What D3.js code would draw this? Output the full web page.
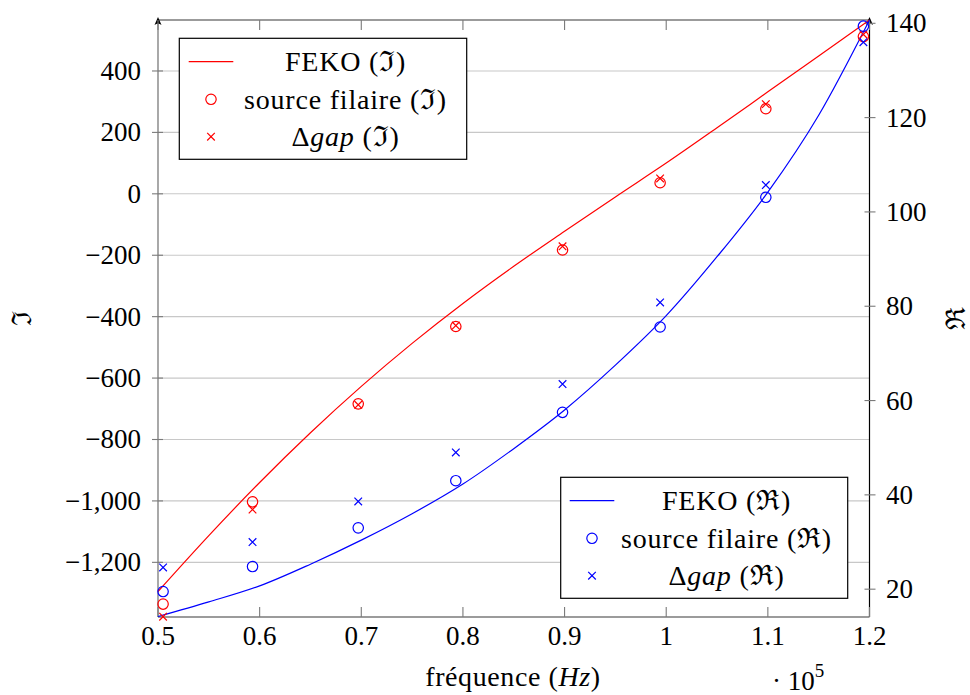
<!DOCTYPE html>
<html>
<head>
<meta charset="utf-8">
<script src="https://cdn.jsdelivr.net/npm/d3@7"></script>
</head>
<body style="margin:0;padding:0;background:#fff">
<svg id="chart" width="970" height="695" font-family="Liberation Serif"></svg>
<script>
// ---- Data (frequency in units of 1e5 Hz) ----
const fekoFreq = [0.50, 0.55, 0.60, 0.65, 0.70, 0.75, 0.80, 0.85, 0.90, 0.95, 1.00, 1.05, 1.10, 1.15, 1.20];
const fekoIm   = [-1295, -1113, -940, -778, -627, -487, -357, -236, -122, -10, 100, 215, 332, 449, 566];
const fekoRe   = [14.2, 17.3, 20.7, 25.3, 30.4, 36.0, 42.3, 49.8, 58.0, 67.5, 78.0, 90.5, 104.2, 120.5, 140.7];

const ptFreq   = [0.505, 0.593, 0.697, 0.793, 0.898, 0.994, 1.098, 1.194];
const imSource = [-1336, -1003, -684, -432, -183, 36, 277, 512];
const imGap    = [-1377, -1028, -687, -429, -171, 50, 292, 519];
const reSource = [19.5, 24.8, 33.0, 43.0, 57.5, 75.6, 103.1, 139.4];
const reGap    = [24.6, 30.0, 38.6, 49.0, 63.5, 80.8, 105.7, 136.0];

const xTicks  = [0.5, 0.6, 0.7, 0.8, 0.9, 1.0, 1.1, 1.2];
const yLTicks = [-1200, -1000, -800, -600, -400, -200, 0, 200, 400];
const yRTicks = [20, 40, 60, 80, 100, 120, 140];

const legendIm = ["FEKO (ℑ)", "source filaire (ℑ)", "Δgap (ℑ)"];
const legendRe = ["FEKO (ℜ)", "source filaire (ℜ)", "Δgap (ℜ)"];

// ---- Layout ----
const L = 158, R = 869.5, T = 20, B = 617;
const FS = 27;
const svg = d3.select("#chart").attr("font-family", "Liberation Serif, Times New Roman, serif");

const x  = d3.scaleLinear().domain([0.5, 1.2]).range([L, R]);
const yL = d3.scaleLinear().domain([-1378, 566]).range([B, T]);
const yR = d3.scaleLinear().domain([14.1, 140.7]).range([B, T]);

const gray = "#7a7a7a";

// grid lines
svg.append("g").selectAll("line").data(yLTicks).join("line")
  .attr("x1", L).attr("x2", R)
  .attr("y1", d => yL(d)).attr("y2", d => yL(d))
  .attr("stroke", "#c8c8c8").attr("stroke-width", 1.1);

// frame: top, bottom, left (gray)
svg.append("line").attr("x1", L).attr("x2", R).attr("y1", T).attr("y2", T).attr("stroke", gray).attr("stroke-width", 1.3);
svg.append("line").attr("x1", L).attr("x2", R).attr("y1", B).attr("y2", B).attr("stroke", gray).attr("stroke-width", 1.3);
svg.append("line").attr("x1", L).attr("x2", L).attr("y1", B).attr("y2", T - 1).attr("stroke", gray).attr("stroke-width", 1.3);
// right axis (black)
svg.append("line").attr("x1", R).attr("x2", R).attr("y1", B).attr("y2", T - 1).attr("stroke", "#000").attr("stroke-width", 1.2);

// arrow heads
function arrow(xp) {
  svg.append("path")
    .attr("d", `M${xp},${T - 3} L${xp - 3.5},${T + 5} Q${xp},${T + 2} ${xp + 3.5},${T + 5} Z`)
    .attr("fill", "#000");
}
arrow(L); arrow(R);

// x ticks (bottom and top, inside)
const xt = svg.append("g");
xt.selectAll("line.b").data(xTicks).join("line").attr("class", "b")
  .attr("x1", d => x(d)).attr("x2", d => x(d)).attr("y1", B).attr("y2", B - 10)
  .attr("stroke", gray).attr("stroke-width", 1.1);
xt.selectAll("line.t").data(xTicks).join("line").attr("class", "t")
  .attr("x1", d => x(d)).attr("x2", d => x(d)).attr("y1", T).attr("y2", T + 10)
  .attr("stroke", gray).attr("stroke-width", 1.1);
xt.selectAll("text").data(xTicks).join("text")
  .attr("x", d => x(d)).attr("y", 645).attr("text-anchor", "middle")
  .attr("font-size", FS)
  .text(d => String(+d.toFixed(1)));

// left y ticks
const fmt = d3.format(",");
const yl = svg.append("g");
yl.selectAll("line").data(yLTicks).join("line")
  .attr("x1", L - 6).attr("x2", L + 5).attr("y1", d => yL(d)).attr("y2", d => yL(d))
  .attr("stroke", gray).attr("stroke-width", 1.1);
yl.selectAll("text").data(yLTicks).join("text")
  .attr("x", 141).attr("y", d => yL(d) + 9).attr("text-anchor", "end")
  .attr("font-size", FS)
  .text(d => fmt(d));

// right y ticks
const yr = svg.append("g");
yr.selectAll("line").data(yRTicks).join("line")
  .attr("x1", R - 5).attr("x2", R + 6).attr("y1", d => yR(d)).attr("y2", d => yR(d))
  .attr("stroke", gray).attr("stroke-width", 1.1);
yr.selectAll("text").data(yRTicks).join("text")
  .attr("x", 886).attr("y", d => yR(d) + 9).attr("text-anchor", "start")
  .attr("font-size", FS)
  .text(d => d);

// axis labels
const xl = svg.append("text").attr("x", 513).attr("y", 686).attr("text-anchor", "middle")
  .attr("font-size", 28).attr("letter-spacing", 0.6);
xl.append("tspan").text("fréquence (");
xl.append("tspan").attr("font-style", "italic").text("Hz");
xl.append("tspan").text(")");

const ex = svg.append("text").attr("x", 772).attr("y", 690).attr("font-size", FS);
ex.append("tspan").text("· 10");
ex.append("tspan").attr("font-size", 19).attr("dy", -13).text("5");

svg.append("text").attr("transform", "translate(31,318) rotate(-90)")
  .attr("text-anchor", "middle").attr("font-size", FS).text("ℑ");
svg.append("text").attr("transform", "translate(965,318) rotate(-90)")
  .attr("text-anchor", "middle").attr("font-size", FS).text("ℜ");

// curves
const lineIm = d3.line().x(d => x(d[0])).y(d => yL(d[1])).curve(d3.curveMonotoneX);
const lineRe = d3.line().x(d => x(d[0])).y(d => yR(d[1])).curve(d3.curveMonotoneX);
svg.append("path").attr("d", lineIm(d3.zip(fekoFreq, fekoIm)))
  .attr("fill", "none").attr("stroke", "#ff0000").attr("stroke-width", 1.2);
svg.append("path").attr("d", lineRe(d3.zip(fekoFreq, fekoRe)))
  .attr("fill", "none").attr("stroke", "#0000ff").attr("stroke-width", 1.2);

// markers
function circles(xs, ys, sc, color) {
  svg.append("g").selectAll("circle").data(d3.zip(xs, ys)).join("circle")
    .attr("cx", d => x(d[0])).attr("cy", d => sc(d[1])).attr("r", 5.2)
    .attr("fill", "none").attr("stroke", color).attr("stroke-width", 1.2);
}
function crosses(xs, ys, sc, color) {
  const s = 3.8;
  svg.append("g").selectAll("path").data(d3.zip(xs, ys)).join("path")
    .attr("d", d => {
      const cx = x(d[0]), cy = sc(d[1]);
      return `M${cx - s},${cy - s}L${cx + s},${cy + s}M${cx - s},${cy + s}L${cx + s},${cy - s}`;
    })
    .attr("fill", "none").attr("stroke", color).attr("stroke-width", 1.2);
}
circles(ptFreq, imSource, yL, "#ff0000");
crosses(ptFreq, imGap, yL, "#ff0000");
circles(ptFreq, reSource, yR, "#0000ff");
crosses(ptFreq, reGap, yR, "#0000ff");

// legends
function legend(x0, y0, w, h, color, labels, sampleX, textX) {
  const g = svg.append("g");
  g.append("rect").attr("x", x0).attr("y", y0).attr("width", w).attr("height", h)
    .attr("fill", "#fff").attr("stroke", "#000").attr("stroke-width", 1.2);
  const rows = [y0 + 23.4, y0 + 61, y0 + 98.4];
  g.append("line").attr("x1", sampleX - 22.3).attr("x2", sampleX + 22.3)
    .attr("y1", rows[0]).attr("y2", rows[0]).attr("stroke", color).attr("stroke-width", 1.2);
  g.append("circle").attr("cx", sampleX).attr("cy", rows[1]).attr("r", 5.2)
    .attr("fill", "none").attr("stroke", color).attr("stroke-width", 1.2);
  const s = 3.8, cx = sampleX, cy = rows[2];
  g.append("path").attr("d", `M${cx - s},${cy - s}L${cx + s},${cy + s}M${cx - s},${cy + s}L${cx + s},${cy - s}`)
    .attr("stroke", color).attr("stroke-width", 1.2).attr("fill", "none");
  labels.forEach((lab, i) => {
    const t = g.append("text").attr("x", textX).attr("y", rows[i] + 9.3)
      .attr("text-anchor", "middle").attr("font-size", 28).attr("letter-spacing", 0.8);
    if (lab.startsWith("Δgap")) {
      t.append("tspan").text("Δ");
      t.append("tspan").attr("font-style", "italic").text("gap");
      t.append("tspan").text(lab.slice(4));
    } else {
      t.text(lab);
    }
  });
}
legend(179.3, 38.3, 287.4, 121, "#ff0000", legendIm, 211, 345.5);
legend(560.7, 477.3, 287, 121, "#0000ff", legendRe, 592, 726.5);
</script>
</body>
</html>
